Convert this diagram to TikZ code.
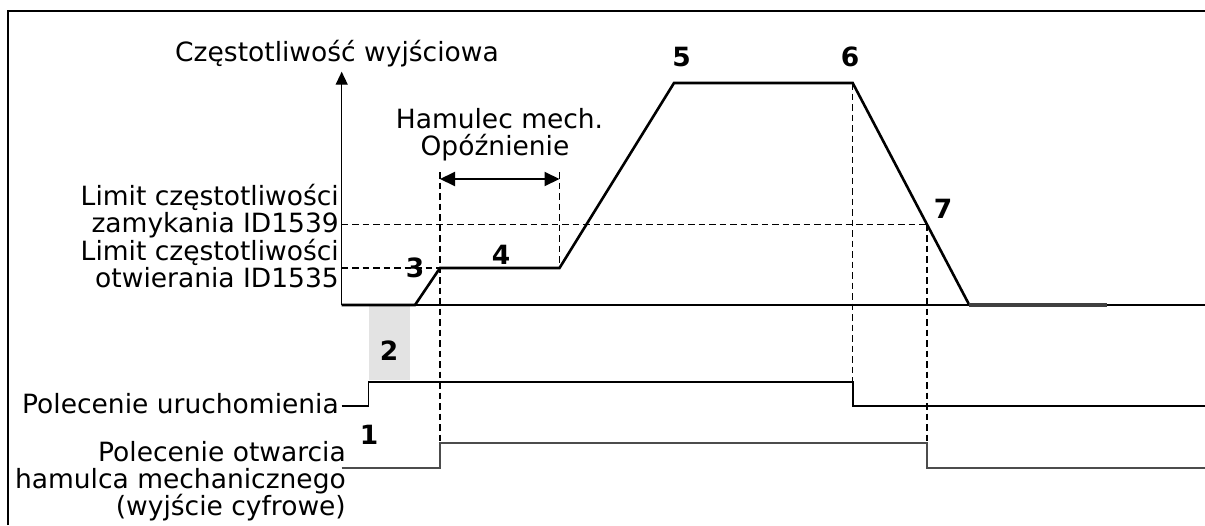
\documentclass[tikz,border=0pt]{standalone}
\usepackage{fontspec}
\setmainfont{DejaVu Sans}
\usetikzlibrary{arrows.meta}

\begin{document}
\begin{tikzpicture}[x=1pt,y=-1pt]
  \tikzstyle{lbl}=[inner sep=0,font=\fontsize{26.5}{27}\selectfont]
  \tikzstyle{num}=[inner sep=0,font=\fontsize{26.5}{27}\selectfont\bfseries]
  \tikzstyle{guide}=[dash pattern=on 6.5pt off 4pt,line width=1.3pt]
  \tikzstyle{sig}=[line width=1.6pt]
  \useasboundingbox (0,0) rectangle (1205,525);
  \draw[line width=1.3pt] (8,525) -- (8,11) -- (1205,11);
  % output frequency
  \coordinate (o) at (341.7,305);
  \coordinate (top) at (341.7,71.7);
  \coordinate (tend) at (1205,305);
  \coordinate (f0) at (415,305);
  \coordinate (f1) at (440,268);
  \coordinate (f2) at (559.5,268);
  \coordinate (f3) at (674,83);
  \coordinate (f4) at (852.7,83);
  \coordinate (f7) at (927,224.5);
  \coordinate (f5) at (969.3,305);
  \coordinate (f6) at (1107,305);
  \fill[black!11] (369,306) rectangle (410,380);
  \draw[line width=1.4pt,-{Triangle[length=13pt,width=12pt]}] (o) -- (top);
  \draw[line width=1.6pt] (o) -- (tend);
  \draw[line width=2.6pt] (o) -- (f0) -- (f1) -- (f2) -- (f3) -- (f4) -- (f5);
  \draw[line width=3.2pt,black!75] (f5) -- (f6);
  % start command and brake open command
  \coordinate (s0) at (341.7,406);
  \coordinate (s1) at (368.3,381.7);
  \coordinate (s2) at (852.7,381.7);
  \coordinate (s3) at (1205,406);
  \coordinate (b0) at (341.7,467.7);
  \coordinate (b1) at (440,442.7);
  \coordinate (b2) at (927,442.7);
  \coordinate (b3) at (1205,467.7);
  \draw[sig] (s0) -| (s1) -- (s2) |- (s3);
  \draw[sig,black!70] (b0) -| (b1) -- (b2) |- (b3);
  % guides
  \coordinate (d1) at (440,172);
  \coordinate (d2) at (559.5,172);
  \draw[guide] (o |- f7) -- (f7);
  \draw[guide] (o |- f1) -- (f1);
  \draw[guide] (d1) -- (b1);
  \draw[guide] (d2) -- (f2);
  \draw[guide] (f4) -- (s2);
  \draw[guide] (f7) -- (b2);
  \coordinate (dl) at (440,179);
  \coordinate (dr) at (559.5,179);
  \draw[line width=2pt,{Triangle[length=15pt,width=14pt]}-{Triangle[length=15pt,width=14pt]}] (dl) -- (dr);
  % texts
  \node[lbl,anchor=base] (ylbl) at (337,61) {Częstotliwość wyjściowa};
  \node[lbl,anchor=base] (delay1) at (499.5,128) {Hamulec mech.};
  \node[lbl,anchor=base] (delay2) at (495,155) {Opóźnienie};
  \node[lbl,anchor=base east] (close1) at (339,205) {Limit częstotliwości};
  \node[lbl,anchor=base east] (close2) at (339,232.5) {zamykania ID1539};
  \node[lbl,anchor=base east] (open1) at (339,260) {Limit częstotliwości};
  \node[lbl,anchor=base east] (open2) at (339,287.5) {otwierania ID1535};
  \node[lbl,anchor=base east] (startlbl) at (339,413) {Polecenie uruchomienia};
  \node[lbl,anchor=base east] (brake1) at (346,461.7) {Polecenie otwarcia};
  \node[lbl,anchor=base east] (brake2) at (346,488) {hamulca mechanicznego};
  \node[lbl,anchor=base east] (brake3) at (346,515) {(wyjście cyfrowe)};
  \node[num] (n1) at (369,435) {1};
  \node[num] (n2) at (389,351) {2};
  \node[num] (n3) at (415,268) {3};
  \node[num] (n4) at (501,255) {4};
  \node[num] (n5) at (681.7,56.7) {5};
  \node[num] (n6) at (850,56.7) {6};
  \node[num] (n7) at (943,209) {7};
\end{tikzpicture}
\end{document}
